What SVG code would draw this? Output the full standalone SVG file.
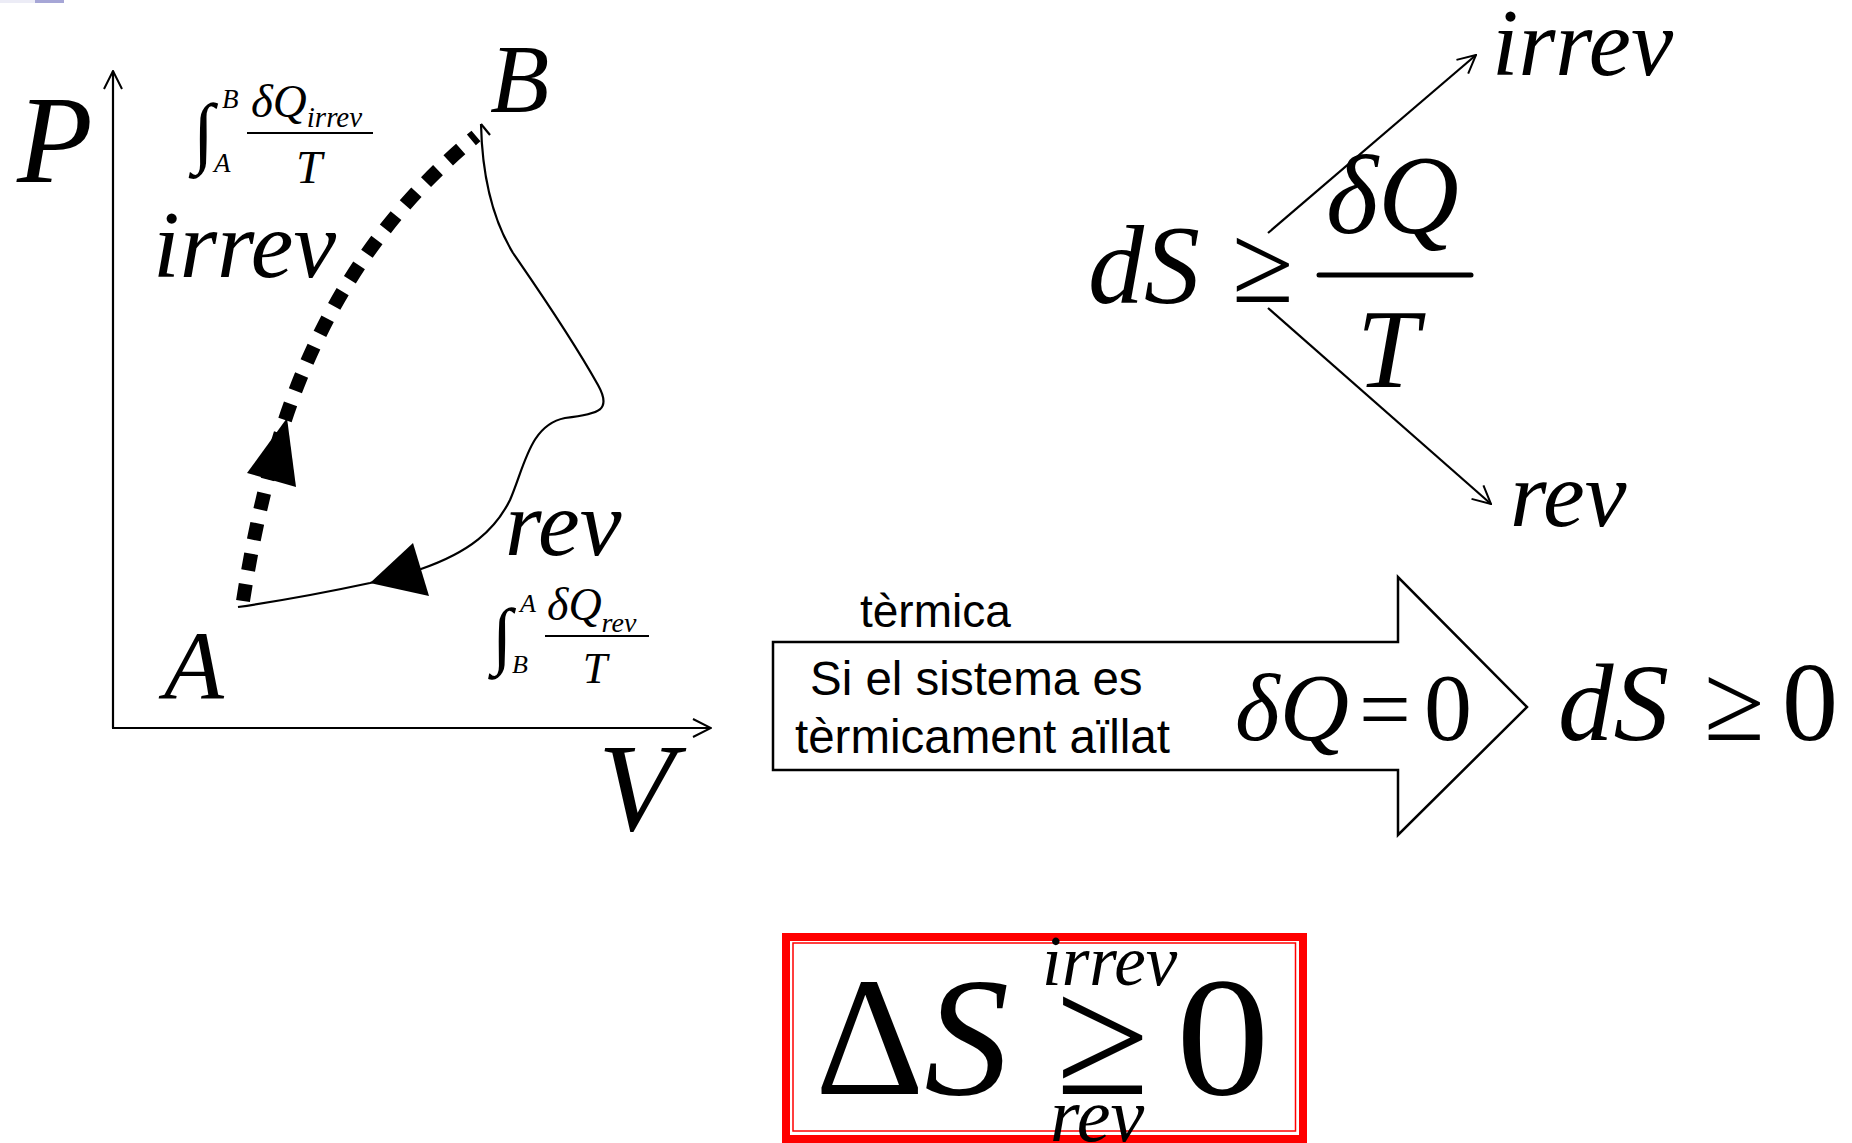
<svg xmlns="http://www.w3.org/2000/svg" width="1852" height="1143" viewBox="0 0 1852 1143">
<style>
.m{font-family:"Liberation Serif","Times New Roman",serif;font-style:italic;fill:#000}
.u{font-family:"Liberation Serif","Times New Roman",serif;font-style:normal;fill:#000}
.s{font-family:"Liberation Sans",Arial,sans-serif;fill:#000}
.ln{fill:none;stroke:#000;stroke-width:2.2}
.bar{stroke:#000;stroke-width:2.2}
</style>
<defs>
<marker id="open" viewBox="0 0 20 20" refX="19" refY="10" markerWidth="20" markerHeight="20" markerUnits="userSpaceOnUse" orient="auto">
<path d="M1,1 L19,10 L1,19" fill="none" stroke="#000" stroke-width="2"/>
</marker>
</defs>
<rect width="1852" height="1143" fill="#fff"/>
<rect x="0" y="0" width="35" height="3" fill="#ececf6"/>
<rect x="35" y="0" width="29" height="3" fill="#a6a6d6"/>

<g id="connectors">
<path id="axis-p" class="ln" d="M113,728 L113,71" marker-end="url(#open)"/>
<path id="axis-v" class="ln" d="M112,728 L711,728" marker-end="url(#open)"/>
<path id="path-irrev" d="M243,601 C270,430 320,265 476,136" fill="none" stroke="#000" stroke-width="14" stroke-dasharray="17 14"/>
<polygon points="287,418 247,473 296,487" fill="#000"/>
<path id="path-rev" class="ln" d="M238,607 Q300,598 370,583 L421,569 C470,552 495,530 510,500 C525,465 530,425 565,418 C600,414 612,410 598,385 C570,335 535,285 513,253 C490,215 482,170 481,124"/>
<path class="ln" d="M481,124 L490,135"/>
<polygon points="370,583 413,543 429,596" fill="#000"/>
<path id="arrow-irrev" class="ln" d="M1268,233 L1476,55" marker-end="url(#open)"/>
<path id="arrow-rev" class="ln" d="M1268,308 L1491,504" marker-end="url(#open)"/>
</g>

<g id="label-P"><text class="m" x="17" y="182" font-size="124">P</text></g>
<g id="label-V"><text class="m" x="598" y="830" font-size="125">V</text></g>
<g id="label-A"><text class="m" x="164" y="698" font-size="98">A</text></g>
<g id="label-B"><text class="m" x="490" y="112" font-size="97">B</text></g>
<g id="label-irrev-path"><text class="m" x="153" y="277" font-size="96">irrev</text></g>
<g id="label-rev-path"><text class="m" x="505" y="555" font-size="94">rev</text></g>

<g id="integral-irrev">
<text class="u" x="193" y="158" font-size="78">∫</text>
<text class="m" x="222" y="108" font-size="27">B</text>
<text class="m" x="214" y="172" font-size="27">A</text>
<text class="m" x="251" y="117" font-size="47">δQ<tspan font-size="29" dy="10">irrev</tspan></text>
<line class="bar" x1="247" y1="133" x2="373" y2="133"/>
<text class="m" x="309" y="183" font-size="47" text-anchor="middle">T</text>
</g>

<g id="integral-rev">
<text class="u" x="492" y="660" font-size="74">∫</text>
<text class="m" x="520" y="612" font-size="26">A</text>
<text class="m" x="512" y="673" font-size="26">B</text>
<text class="m" x="547" y="620" font-size="46">δQ<tspan font-size="28" dy="12">rev</tspan></text>
<line class="bar" x1="545" y1="636" x2="649" y2="636"/>
<text class="m" x="595" y="683" font-size="44" text-anchor="middle">T</text>
</g>

<g id="eq-ds">
<text class="m" x="1088" y="303" font-size="112">dS</text>
<text class="u" x="1232" y="302" font-size="112">≥</text>
<text class="m" x="1326" y="233" font-size="112">δQ</text>
<line x1="1319" y1="275" x2="1471" y2="275" stroke="#000" stroke-width="5" stroke-linecap="round"/>
<text class="m" x="1388" y="387" font-size="112" text-anchor="middle">T</text>
</g>
<g id="label-irrev-branch"><text class="m" x="1492" y="75" font-size="95">irrev</text></g>
<g id="label-rev-branch"><text class="m" x="1510" y="526" font-size="94">rev</text></g>

<g id="arrow-block">
<polygon points="773,642 1398,642 1398,577 1527,707 1398,835 1398,770 773,770" fill="#fff" stroke="#000" stroke-width="2.5"/>
<text class="s" x="860" y="627" font-size="46">tèrmica</text>
<text class="s" x="810" y="695" font-size="47.5">Si el sistema es</text>
<text class="s" x="795" y="753" font-size="47.5">tèrmicament aïllat</text>
<text class="m" x="1235" y="740" font-size="96">δQ</text>
<text class="u" x="1359" y="740" font-size="92">=</text>
<text class="u" x="1424" y="740" font-size="96">0</text>
</g>

<g id="eq-ds-zero">
<text class="m" x="1558" y="740" font-size="111">dS</text>
<text class="u" x="1704" y="740" font-size="110">≥</text>
<text class="u" x="1782" y="740" font-size="112">0</text>
</g>

<g id="result-box">
<rect x="786" y="937" width="517" height="202" fill="#fff" stroke="#ff0000" stroke-width="8"/>
<rect x="793" y="943" width="502.5" height="188" fill="none" stroke="#ff0000" stroke-width="1.5"/>
<text class="u" x="815" y="1094" font-size="170">Δ<tspan class="m" font-style="italic">S</tspan></text>
<text class="u" x="1056" y="1094" font-size="170">≥</text>
<text class="u" x="1176" y="1094" font-size="170" transform="translate(1176 0) scale(1.1 1) translate(-1176 0)">0</text>
<text class="m" x="1042" y="985" font-size="71">irrev</text>
<text class="m" x="1050" y="1141" font-size="76">rev</text>
</g>
</svg>
